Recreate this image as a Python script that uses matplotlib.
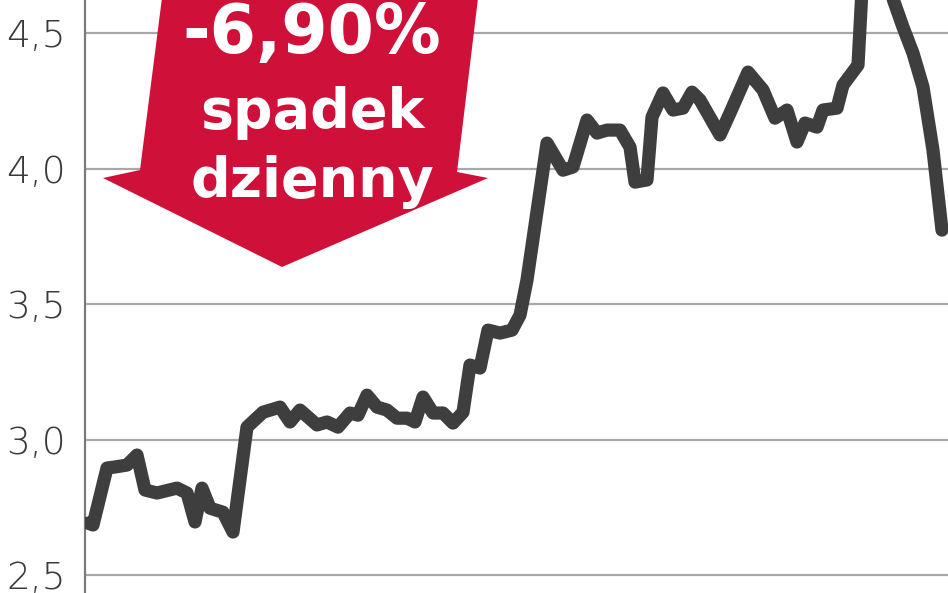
import matplotlib.pyplot as plt
from matplotlib.patches import Polygon

# session index and closing price
sesja = [3, 8, 22, 30, 42, 52, 60, 72, 92, 102, 110, 117, 125, 138, 148,
         162, 178, 195, 205, 215, 232, 242, 253, 265, 273, 282, 292, 302,
         312, 322, 330, 338, 348, 358, 368, 378, 385, 395, 403, 415, 427,
         435, 442, 462, 478, 488, 502, 512, 522, 535, 545, 550, 562, 567,
         578, 588, 598, 607, 615, 635, 645, 663, 678, 690, 702, 712, 720,
         732, 738, 752, 758, 773, 779, 791, 801, 818, 828, 838, 848, 857]
kurs = [2.692, 2.685, 2.895, 2.899, 2.906, 2.943, 2.814, 2.803, 2.821, 2.803,
        2.696, 2.821, 2.747, 2.732, 2.659, 3.046, 3.101, 3.120, 3.065, 3.109,
        3.054, 3.065, 3.046, 3.098, 3.090, 3.164, 3.120, 3.109, 3.079, 3.079,
        3.065, 3.157, 3.098, 3.098, 3.061, 3.101, 3.275, 3.264, 3.404, 3.393,
        3.404, 3.459, 3.589, 4.094, 3.994, 4.006, 4.179, 4.131, 4.142, 4.142,
        4.079, 3.950, 3.958, 4.190, 4.279, 4.216, 4.223, 4.282, 4.253, 4.124,
        4.205, 4.356, 4.290, 4.186, 4.216, 4.098, 4.168, 4.153, 4.216, 4.223,
        4.308, 4.382, 4.80, 4.84, 4.70, 4.522, 4.426, 4.301, 4.068, 3.773]

yticks = [2.5, 3.0, 3.5, 4.0, 4.5]
ytick_labels = ['2,5', '3,0', '3,5', '4,0', '4,5']
label_lines = ['-6,90%', 'spadek', 'dzienny']

W, H = 948, 593
fig = plt.figure(figsize=(W / 100, H / 100), dpi=100)
ax = fig.add_axes([85 / W, 0, 1 - 85 / W, 1])

ax.plot(sesja, kurs, color='#3e3e3e', lw=9.5, solid_capstyle='round',
        solid_joinstyle='round', zorder=4)

ax.set_xlim(0, 863)
ax.set_ylim(2.434, 4.622)
ax.set_xticks([])
ax.set_yticks(yticks)
ax.set_yticklabels(ytick_labels, fontsize=27, color='#3a3a3a',
                   family='DejaVu Sans', fontweight='light')
ax.tick_params(axis='y', length=0, pad=14)
ax.grid(axis='y', color='#a8a8a8', lw=1.6, zorder=1)
ax.set_axisbelow(True)
for s in ['top', 'right', 'bottom']:
    ax.spines[s].set_visible(False)
ax.spines['left'].set_color('#7a7a7a')
ax.spines['left'].set_linewidth(1.6)

# red arrow (figure pixel coords)
arrow_px = [(163, -10), (479, -10), (457, 172), (488, 178), (282, 267),
            (103, 178), (140, 170)]
arrow = Polygon([(x / W, 1 - y / H) for x, y in arrow_px], closed=True,
                transform=fig.transFigure, facecolor='#cf1039',
                edgecolor='none', zorder=3, clip_on=False)
ax.add_patch(arrow)

for txt, base, fs in zip(label_lines, [53, 128, 197], [48, 40, 40]):
    ax.text(312 / W, 1 - base / H, txt, transform=fig.transFigure,
            ha='center', va='baseline', color='white', fontsize=fs,
            fontweight='bold', family='DejaVu Sans', zorder=5)

fig.savefig('out.png', dpi=100)
